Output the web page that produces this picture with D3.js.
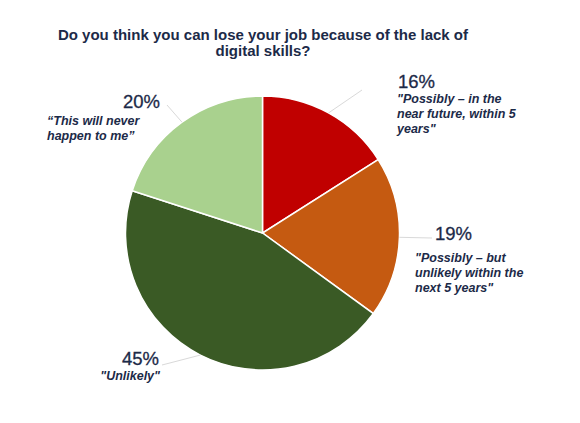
<!DOCTYPE html>
<html>
<head>
<meta charset="utf-8">
<script src="https://cdn.jsdelivr.net/npm/d3@7"></script>
<style>
  body { margin: 0; background: #fff; }
  svg { display: block; font-family: "Liberation Sans", Arial, sans-serif; }
</style>
</head>
<body>
<svg id="chart" width="580" height="423"></svg>
<script>
const titleLines = ['Do you think you can lose your job because of the lack of', 'digital skills?'];
const categories = ['"Possibly – in the near future, within 5 years"', '"Possibly – but unlikely within the next 5 years"', '"Unlikely"', '“This will never happen to me”'];
const values = [16, 19, 45, 20];
const colors = ['#C00000', '#C55A11', '#3A5A25', '#A9D18E'];
const labelLines = [
  ['"Possibly – in the', 'near future, within 5', 'years"'],
  ['"Possibly – but', 'unlikely within the', 'next 5 years"'],
  ['"Unlikely"'],
  ['“This will never', 'happen to me”'],
];

// label layout (placement only)
const labelLayout = [
  { px: 398, py: 88, tx: 397, ty: 103, anchor: 'start', end: [362, 90] },
  { px: 435, py: 240, tx: 415, ty: 262, anchor: 'start', end: [432, 238] },
  { px: 122, py: 365, tx: 160, ty: 380, anchor: 'end', end: [162, 365] },
  { px: 123, py: 108, tx: 47, ty: 125, anchor: 'start', end: [167, 105] },
];

const cx = 262.5, cy = 233, r = 137;
const textColor = '#1C2A48';
const svg = d3.select('#chart');

svg.append('g').selectAll('text').data(titleLines).join('text')
  .attr('x', 263).attr('y', (d, i) => 40 + i * 15.5)
  .attr('text-anchor', 'middle')
  .attr('font-size', 15).attr('font-weight', 'bold')
  .attr('fill', textColor)
  .text(d => d);

const pie = d3.pie().sort(null).value(d => d);
const arcs = pie(values);
const arc = d3.arc().innerRadius(0).outerRadius(r);
const edge = d3.arc().innerRadius(r).outerRadius(r);

const g = svg.append('g').attr('transform', `translate(${cx},${cy})`);

g.selectAll('path').data(arcs).join('path')
  .attr('d', arc)
  .attr('fill', (d, i) => colors[i])
  .attr('stroke', '#fff')
  .attr('stroke-width', 1.5);

// leader lines
svg.append('g').selectAll('line').data(arcs).join('line')
  .attr('x1', d => cx + edge.centroid(d)[0])
  .attr('y1', d => cy + edge.centroid(d)[1])
  .attr('x2', (d, i) => labelLayout[i].end[0])
  .attr('y2', (d, i) => labelLayout[i].end[1])
  .attr('stroke', '#D9D9D9')
  .attr('stroke-width', 1);

const labels = svg.append('g').selectAll('g').data(arcs).join('g');

labels.append('text')
  .attr('x', (d, i) => labelLayout[i].px)
  .attr('y', (d, i) => labelLayout[i].py)
  .attr('font-size', 18.5)
  .attr('fill', textColor)
  .attr('stroke', textColor)
  .attr('stroke-width', 0.3)
  .text(d => d.data + '%');

labels.each(function(d, i) {
  const L = labelLayout[i];
  d3.select(this).append('text')
    .attr('x', L.tx).attr('y', L.ty)
    .attr('text-anchor', L.anchor)
    .attr('font-size', 12.5)
    .attr('font-weight', 'bold')
    .attr('font-style', 'italic')
    .attr('fill', textColor)
    .selectAll('tspan').data(labelLines[i]).join('tspan')
    .attr('x', L.tx)
    .attr('dy', (t, j) => j === 0 ? 0 : 15)
    .text(t => t);
});
</script>
</body>
</html>
